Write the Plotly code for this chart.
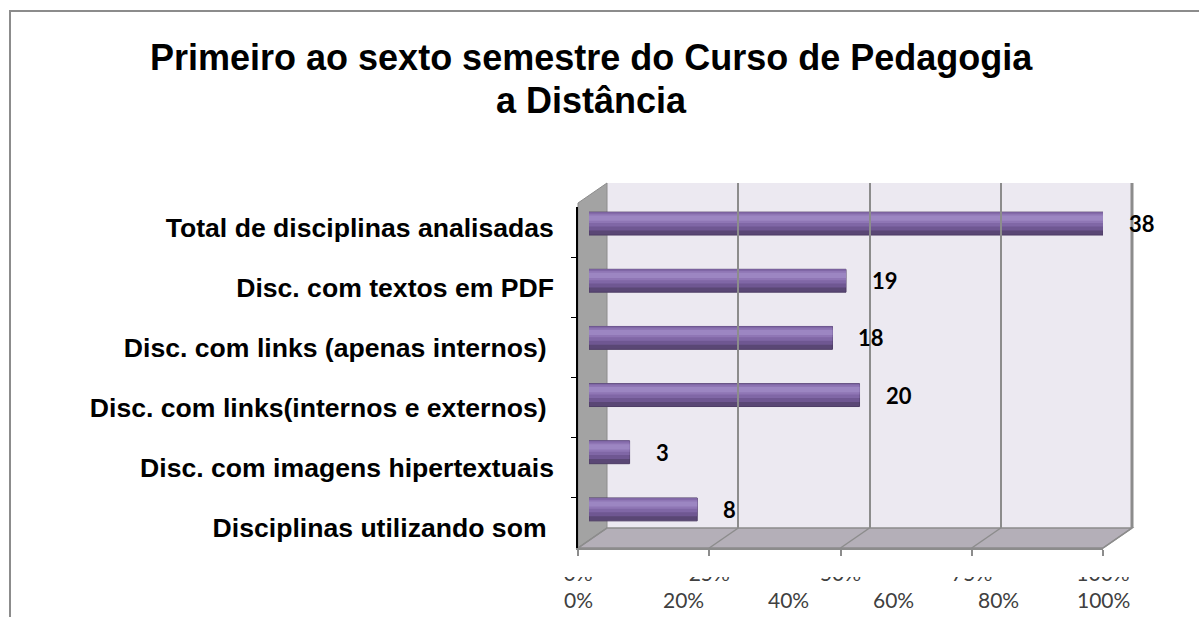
import plotly.graph_objects as go

# ---------------- data ----------------
categories = [
    "Total de disciplinas analisadas",
    "Disc. com textos em PDF",
    "Disc. com links (apenas internos)\u00a0",
    "Disc. com links(internos e externos)\u00a0",
    "Disc. com imagens hipertextuais",
    "Disciplinas utilizando som\u00a0",
]
counts = [38, 19, 18, 20, 3, 8]
total = 38
grid_ticks = [0, 25, 50, 75, 100]
grid_labels = ["0%", "25%", "50%", "75%", "100%"]
pct_ticks = [0, 20, 40, 60, 80, 100]
pct_labels = ["0%", "20%", "40%", "60%", "80%", "100%"]
title_lines = ["Primeiro ao sexto semestre do Curso de Pedagogia", "a Distância"]

pct = [c / total * 100 for c in counts]

W, H = 1199, 617


def fx(p):
    return p / W


def fy(p):
    return 1 - p / H


fig = go.Figure()

# cylinder shading layers: (offset, width, colour)
layers = [
    (-0.20, 0.40, "#5A4775"),
    (-0.20, 0.32, "#6F5792"),
    (-0.20, 0.25, "#8067A6"),
    (-0.17, 0.16, "#8F76B5"),
    (-0.14, 0.09, "#9C86C2"),
]
for i, (off, wid, col) in enumerate(layers):
    fig.add_trace(go.Bar(
        x=pct, y=categories, orientation="h", width=wid, offset=off,
        marker=dict(color=col,
                    line=dict(color="#4E3D66", width=1) if i == 0 else dict(width=0)),
        hoverinfo="skip", xaxis="x", yaxis="y",
    ))
fig.add_trace(go.Scatter(x=[0], y=[0], mode="markers", marker=dict(opacity=0),
                         hoverinfo="skip", xaxis="x3", yaxis="y3"))
fig.add_trace(go.Scatter(x=[0] * len(categories), y=categories, mode="markers",
                         marker=dict(opacity=0), hoverinfo="skip",
                         xaxis="x2", yaxis="y2"))

# ---------------- geometry ----------------
front_l, front_r, front_t, front_b = 578, 1103, 207, 548
back_l, back_r, back_t, back_b = 607, 1132, 183, 528

shapes = []
shapes.append(dict(type="rect", xref="paper", yref="paper",
                   x0=fx(back_l), x1=fx(back_r), y0=fy(back_b), y1=fy(back_t),
                   fillcolor="#ECE9F1", line=dict(width=0), layer="below"))
shapes.append(dict(type="path", xref="paper", yref="paper",
                   path=f"M {fx(front_l)},{fy(203)} L {fx(back_l)},{fy(back_t)} "
                        f"L {fx(back_l)},{fy(back_b)} L {fx(front_l)},{fy(front_b)} Z",
                   fillcolor="#A3A3A3", line=dict(color="#8C8C8C", width=1), layer="below"))
shapes.append(dict(type="path", xref="paper", yref="paper",
                   path=f"M {fx(front_l)},{fy(front_b)} L {fx(back_l)},{fy(back_b)} "
                        f"L {fx(back_r)},{fy(back_b)} L {fx(front_r)},{fy(front_b)} Z",
                   fillcolor="#B4AFB8", line=dict(color="#8C8C8C", width=1.5), layer="below"))
for t in grid_ticks:
    bx = back_l + (back_r - back_l) * t / 100
    fxp = front_l + (front_r - front_l) * t / 100
    shapes.append(dict(type="line", xref="paper", yref="paper",
                       x0=fx(bx), y0=fy(back_b), x1=fx(fxp), y1=fy(front_b),
                       line=dict(color="#8C8C8C", width=1.5), layer="below"))
shapes.append(dict(type="line", xref="paper", yref="paper",
                   x0=fx(back_r), y0=fy(back_t), x1=fx(back_r), y1=fy(back_b),
                   line=dict(color="#8C8C8C", width=3), layer="below"))
shapes.append(dict(type="path", xref="paper", yref="paper",
                   path=f"M {fx(10)},0 L {fx(10)},{fy(11)} L 1,{fy(11)}",
                   line=dict(color="#8C8C8C", width=2), layer="below"))
# white band clipping most of the front-axis tick labels (as in the original)
shapes.append(dict(type="rect", xref="paper", yref="paper",
                   x0=fx(540), x1=fx(1160), y0=fy(577), y1=fy(556),
                   fillcolor="white", line=dict(width=0), layer="above"))

annotations = []
for i, line in enumerate(title_lines):
    annotations.append(dict(text=f"<b>{line}</b>", xref="paper", yref="paper",
                            x=fx(591), y=fy(57 + 43 * i), xanchor="center", yanchor="middle",
                            showarrow=False,
                            font=dict(family="Liberation Sans, Arial", size=36, color="#000")))
for c, p, cat in zip(counts, pct, categories):
    annotations.append(dict(text=f"<b>{c}</b>", xref="x", yref="y", x=p, y=cat,
                            xanchor="left", yanchor="middle", xshift=24,
                            showarrow=False,
                            font=dict(family="Lato, Open Sans", size=22, color="#000")))
for t, lab in zip(pct_ticks, pct_labels):
    annotations.append(dict(text=lab, xref="x2", yref="paper", x=t, y=fy(599),
                            xanchor="center", yanchor="middle", showarrow=False,
                            font=dict(family="Lato, Open Sans", size=21, color="#404040")))

fig.update_layout(
    width=W, height=H, autosize=False,
    margin=dict(l=0, r=0, t=0, b=0, pad=0, autoexpand=False),
    paper_bgcolor="white", plot_bgcolor="rgba(0,0,0,0)",
    barmode="overlay", showlegend=False,
    shapes=shapes, annotations=annotations,
    xaxis=dict(domain=[fx(589), fx(1103)], range=[0, 100], anchor="y", automargin=False,
               showgrid=False, zeroline=False, showticklabels=False, showline=False),
    yaxis=dict(domain=[fy(538), fy(195)], anchor="x", type="category", automargin=False,
               categoryorder="array", categoryarray=categories, autorange="reversed",
               showgrid=False, zeroline=False, showticklabels=False, showline=False),
    xaxis3=dict(domain=[fx(back_l), fx(back_r)], range=[0, 100], anchor="y3",
                automargin=False,
                tickvals=grid_ticks, showgrid=True, gridcolor="#8C8C8C", gridwidth=1.5,
                zeroline=False, showticklabels=False, showline=False, ticks=""),
    yaxis3=dict(domain=[fy(back_b), fy(back_t)], range=[0, 1], anchor="x3",
                automargin=False,
                showgrid=False, zeroline=False, showticklabels=False, showline=False),
    xaxis2=dict(domain=[fx(front_l), fx(front_r)], range=[0, 100], anchor="y2",
                automargin=False,
                tickvals=grid_ticks, ticktext=grid_labels,
                ticks="outside", ticklen=6, tickcolor="#8C8C8C",
                tickwidth=1.5, showticklabels=True, showgrid=False, zeroline=False,
                tickfont=dict(family="Lato, Open Sans", size=21, color="#404040"),
                showline=True, linecolor="#8C8C8C", linewidth=2),
    yaxis2=dict(domain=[fy(front_b), fy(front_t)], anchor="x2", type="category",
                automargin=False,
                categoryorder="array", categoryarray=categories, autorange="reversed",
                tickson="boundaries", ticks="outside", ticklen=5, tickcolor="#000",
                showline=True, linecolor="#000", linewidth=1.5, showgrid=False,
                zeroline=False, ticklabelstandoff=17,
                tickfont=dict(family="Liberation Sans, Arial", size=26.6, color="#000"),
                ticktext=[f"<b>{c}</b>" for c in categories], tickvals=categories),
)

fig.write_html("out.html", config={"responsive": False, "displayModeBar": False},
               post_script="document.body.style.margin='0px';")
